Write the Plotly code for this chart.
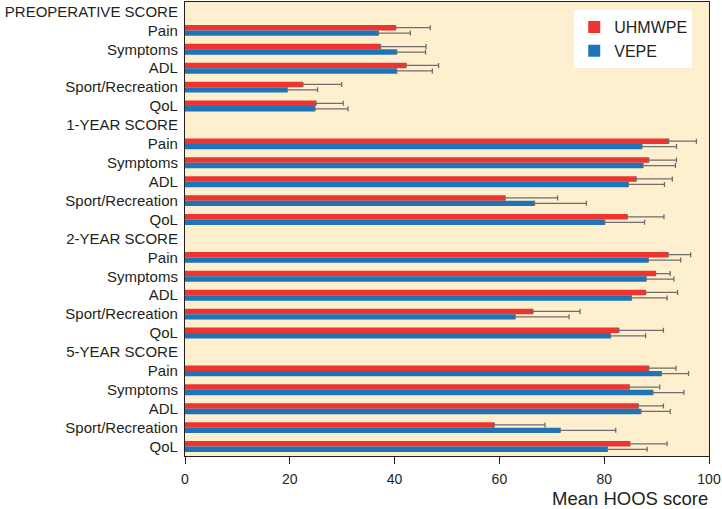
import plotly.graph_objects as go

# Rows (top to bottom); headers have no bars
headers = ["PREOPERATIVE SCORE", "1-YEAR SCORE", "2-YEAR SCORE", "5-YEAR SCORE"]
subscales = ["Pain", "Symptoms", "ADL", "Sport/Recreation", "QoL"]

# Mean HOOS scores per period, in subscale order
uhmwpe_mean = [
    [40.2, 37.3, 42.2, 22.5, 25.0],
    [92.3, 88.5, 86.1, 61.1, 84.4],
    [92.2, 89.8, 87.9, 66.4, 82.8],
    [88.5, 84.8, 86.5, 59.0, 84.9],
]
uhmwpe_sd = [
    [6.6, 8.7, 6.2, 7.4, 5.2],
    [5.3, 5.3, 6.9, 10.0, 7.0],
    [4.3, 2.8, 6.1, 9.0, 8.5],
    [5.2, 5.8, 4.8, 9.7, 7.1],
]
vepe_mean = [
    [36.9, 40.4, 40.4, 19.5, 24.8],
    [87.2, 87.4, 84.6, 66.7, 80.1],
    [88.4, 88.0, 85.2, 63.0, 81.2],
    [90.9, 89.3, 87.0, 71.6, 80.6],
]
vepe_sd = [
    [6.1, 5.5, 6.8, 5.8, 6.3],
    [6.6, 6.2, 6.9, 9.9, 7.6],
    [6.2, 5.3, 6.8, 10.3, 6.7],
    [5.2, 5.9, 5.6, 10.6, 7.6],
]
x_ticks = [0, 20, 40, 60, 80, 100]

# Build row keys and labels
row_keys, row_labels = [], []
u_x, u_e, v_x, v_e = [], [], [], []
for i, h in enumerate(headers):
    row_keys.append(f"h{i}")
    row_labels.append(h)
    u_x.append(None); u_e.append(None); v_x.append(None); v_e.append(None)
    for j, s in enumerate(subscales):
        row_keys.append(f"r{i}_{j}")
        row_labels.append(s)
        u_x.append(uhmwpe_mean[i][j]); u_e.append(uhmwpe_sd[i][j])
        v_x.append(vepe_mean[i][j]); v_e.append(vepe_sd[i][j])

RED = "#EC3430"
BLUE = "#1F73B7"
ERR = "#6E6E6E"

fig = go.Figure()
fig.add_trace(go.Bar(
    y=row_keys, x=u_x, orientation="h", name="UHMWPE",
    marker=dict(color=RED, line=dict(width=0)),
    error_x=dict(type="data", array=u_e, arrayminus=[0] * len(u_e), symmetric=False,
                 color=ERR, thickness=1.3, width=2.5),
))
fig.add_trace(go.Bar(
    y=row_keys, x=v_x, orientation="h", name="VEPE",
    marker=dict(color=BLUE, line=dict(width=0)),
    error_x=dict(type="data", array=v_e, arrayminus=[0] * len(v_e), symmetric=False,
                 color=ERR, thickness=1.3, width=2.5),
))

fig.update_layout(
    width=722, height=509,
    margin=dict(l=185, r=10, t=1, b=53),
    paper_bgcolor="white",
    plot_bgcolor="#FEEFCF",
    barmode="group",
    bargap=0.42,
    bargroupgap=0,
    font=dict(family="Liberation Sans, Arial, sans-serif", color="#231F20"),
    legend=dict(
        x=0.968, xanchor="right", y=0.982, yanchor="top",
        bgcolor="white", borderwidth=0,
        font=dict(size=16, color="#231F20"),
        itemwidth=30, tracegroupgap=0,
    ),
    showlegend=True,
)
fig.update_xaxes(
    range=[0, 100], tickvals=x_ticks, ticktext=[str(t) for t in x_ticks],
    ticks="outside", ticklen=7, tickwidth=1, tickcolor="#231F20",
    showline=True, linecolor="#231F20", linewidth=1.2, mirror=True,
    showgrid=False, zeroline=False, ticklabeloverflow="allow",
    ticklabelstandoff=3,
    tickfont=dict(size=14, family="Liberation Sans Narrow, Liberation Sans, Arial", color="#231F20"),
)
fig.update_yaxes(
    type="category", categoryorder="array", categoryarray=row_keys,
    tickvals=row_keys, ticktext=row_labels,
    autorange="reversed",
    showline=True, linecolor="#231F20", linewidth=1.2, mirror=True,
    showgrid=False, ticks="", ticklabelstandoff=3,
    tickfont=dict(size=15, color="#231F20"),
)
fig.add_annotation(
    text="Mean HOOS score", xref="paper", yref="paper", x=1.0, y=0,
    xanchor="right", yanchor="top", yshift=-30, xshift=1, showarrow=False,
    font=dict(size=18.5, color="#231F20", family="Liberation Sans, Arial"),
)

fig.write_html(
    "out.html",
    config={"displayModeBar": False},
    post_script="document.body.style.margin='0';document.body.style.overflow='hidden';",
)
